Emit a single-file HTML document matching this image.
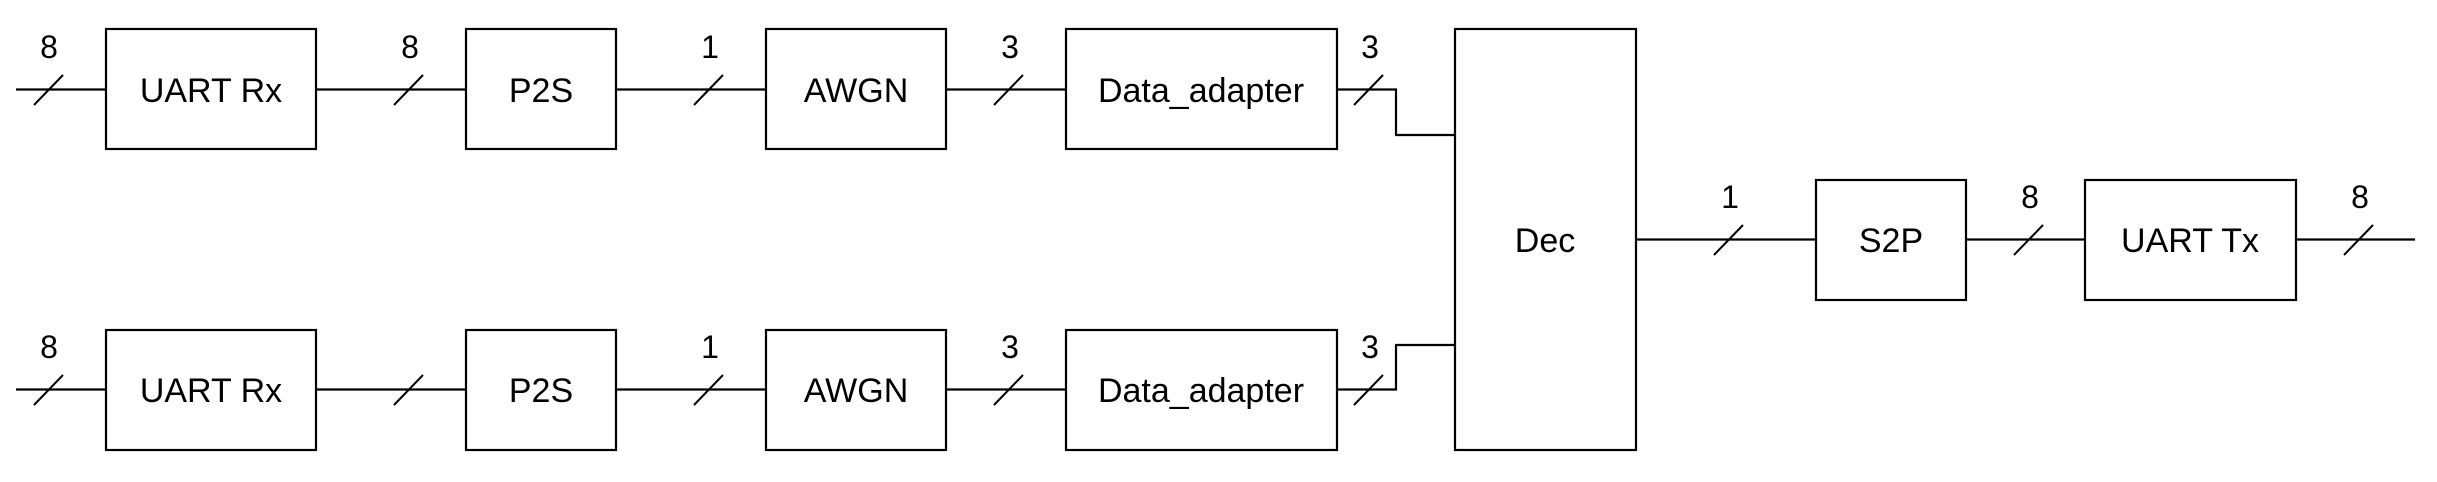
<!DOCTYPE html>
<html><head><meta charset="utf-8"><style>
html,body{margin:0;padding:0;background:#fff;}
svg{display:block;}
text{font-family:"Liberation Sans",Arial,sans-serif;font-size:34px;fill:#000;}
</style></head><body>
<svg width="2437" height="482" viewBox="0 0 2437 482" xmlns="http://www.w3.org/2000/svg">
<g fill="none" stroke="#000" stroke-width="2.2">
<!-- top row -->
<rect x="106" y="29" width="210" height="120"/>
<rect x="466" y="29" width="150" height="120"/>
<rect x="766" y="29" width="180" height="120"/>
<rect x="1066" y="29" width="271" height="120"/>
<line x1="16" y1="89.5" x2="106" y2="89.5"/>
<line x1="316" y1="89.5" x2="466" y2="89.5"/>
<line x1="616" y1="89.5" x2="766" y2="89.5"/>
<line x1="946" y1="89.5" x2="1066" y2="89.5"/>
<polyline points="1337,89.5 1396,89.5 1396,135 1455,135"/>
<!-- bottom row -->
<rect x="106" y="330" width="210" height="120"/>
<rect x="466" y="330" width="150" height="120"/>
<rect x="766" y="330" width="180" height="120"/>
<rect x="1066" y="330" width="271" height="120"/>
<line x1="16" y1="389.5" x2="106" y2="389.5"/>
<line x1="316" y1="389.5" x2="466" y2="389.5"/>
<line x1="616" y1="389.5" x2="766" y2="389.5"/>
<line x1="946" y1="389.5" x2="1066" y2="389.5"/>
<polyline points="1337,389.5 1396,389.5 1396,345 1455,345"/>
<!-- Dec -->
<rect x="1455" y="29" width="181" height="421"/>
<line x1="1636" y1="239.5" x2="1816" y2="239.5"/>
<rect x="1816" y="180" width="150" height="120"/>
<line x1="1966" y1="239.5" x2="2085" y2="239.5"/>
<rect x="2085" y="180" width="211" height="120"/>
<line x1="2296" y1="239.5" x2="2415" y2="239.5"/>
<!-- slashes -->
<g stroke-width="2">
<line x1="34" y1="105" x2="63" y2="75"/>
<line x1="394" y1="105" x2="423" y2="75"/>
<line x1="694" y1="105" x2="723" y2="75"/>
<line x1="994" y1="105" x2="1023" y2="75"/>
<line x1="1354" y1="105" x2="1383" y2="75"/>
<line x1="34" y1="405" x2="63" y2="375"/>
<line x1="394" y1="405" x2="423" y2="375"/>
<line x1="694" y1="405" x2="723" y2="375"/>
<line x1="994" y1="405" x2="1023" y2="375"/>
<line x1="1354" y1="405" x2="1383" y2="375"/>
<line x1="1714" y1="255" x2="1743" y2="225"/>
<line x1="2014" y1="255" x2="2043" y2="225"/>
<line x1="2344" y1="255" x2="2373" y2="225"/>
</g>
</g>
<g text-anchor="middle">
<text x="211" y="102">UART Rx</text>
<text x="541" y="102">P2S</text>
<text x="856" y="102">AWGN</text>
<text x="1201" y="102">Data_adapter</text>
<text x="211" y="402">UART Rx</text>
<text x="541" y="402">P2S</text>
<text x="856" y="402">AWGN</text>
<text x="1201" y="402">Data_adapter</text>
<text x="1545" y="252">Dec</text>
<text x="1891" y="252">S2P</text>
<text x="2190" y="252">UART Tx</text>
<g font-size="32">
<text x="49" y="58" style="font-size:32px">8</text>
<text x="410" y="58" style="font-size:32px">8</text>
<text x="710" y="58" style="font-size:32px">1</text>
<text x="1010" y="58" style="font-size:32px">3</text>
<text x="1370" y="58" style="font-size:32px">3</text>
<text x="49" y="358" style="font-size:32px">8</text>
<text x="710" y="358" style="font-size:32px">1</text>
<text x="1010" y="358" style="font-size:32px">3</text>
<text x="1370" y="358" style="font-size:32px">3</text>
<text x="1730" y="208" style="font-size:32px">1</text>
<text x="2030" y="208" style="font-size:32px">8</text>
<text x="2360" y="208" style="font-size:32px">8</text>
</g>
</g>
</svg>
</body></html>
